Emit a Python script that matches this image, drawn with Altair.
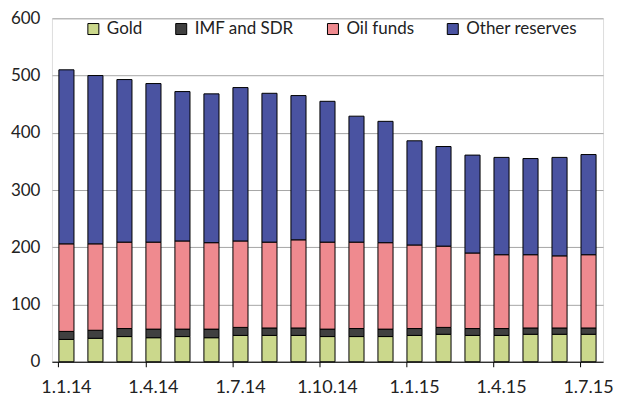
import altair as alt
import pandas as pd

months = ["1.1.14", "1.2.14", "1.3.14", "1.4.14", "1.5.14", "1.6.14", "1.7.14",
          "1.8.14", "1.9.14", "1.10.14", "1.11.14", "1.12.14", "1.1.15", "1.2.15",
          "1.3.15", "1.4.15", "1.5.15", "1.6.15", "1.7.15"]
series = ["Gold", "IMF and SDR", "Oil funds", "Other reserves"]
gold = [39, 41, 44, 42, 44, 42, 46, 46, 46, 44, 44, 44, 46, 48, 46, 46, 48, 48, 48]
imf = [14, 14, 14, 15, 13, 15, 14, 13, 13, 13, 14, 13, 12, 12, 12, 12, 11, 11, 11]
oil = [153, 151, 151, 152, 154, 151, 151, 150, 154, 152, 151, 151, 146, 142, 132, 129, 128, 126, 128]
other = [304, 294, 284, 277, 261, 260, 268, 260, 252, 246, 220, 212, 182, 174, 171, 170, 168, 172, 175]
tick_months = ["1.1.14", "1.4.14", "1.7.14", "1.10.14", "1.1.15", "1.4.15", "1.7.15"]
colors = ["#CBD88C", "#404040", "#EF8A8F", "#4A53A1"]

rows = []
for si, (name, vals) in enumerate(zip(series, [gold, imf, oil, other])):
    for m, v in zip(months, vals):
        rows.append({"month": m, "series": name, "value": v, "order": si})
df = pd.DataFrame(rows)

FONT = "Lato"

chart = alt.Chart(df).mark_bar(stroke="black", strokeWidth=1).encode(
    x=alt.X("month:N", sort=months, title=None,
            scale=alt.Scale(paddingInner=0.48, paddingOuter=0.24),
            axis=alt.Axis(values=tick_months, bandPosition=0,
                          labelAngle=0, labelAlign="center", labelPadding=12,
                          tickSize=5, tickColor="black", domainColor="black",
                          domainWidth=1, labelFontSize=18, labelFont=FONT,
                          labelColor="#222222", grid=False)),
    y=alt.Y("value:Q", stack="zero", title=None,
            scale=alt.Scale(domain=[0, 600], nice=False),
            axis=alt.Axis(values=[0, 100, 200, 300, 400, 500, 600], domain=False,
                          ticks=False, tickSize=0, labelPadding=12,
                          labelFontSize=17, labelFont=FONT, labelColor="#222222",
                          gridColor="#A6A6A6", gridWidth=1)),
    color=alt.Color("series:N", sort=series,
                    scale=alt.Scale(domain=series, range=colors),
                    legend=alt.Legend(title=None, orient="none", legendX=33, legendY=2,
                                      direction="horizontal", symbolType="square",
                                      symbolSize=121, symbolStrokeColor="black",
                                      symbolStrokeWidth=1, labelFontSize=17,
                                      labelFont=FONT, labelColor="#222222",
                                      labelOffset=5, columnPadding=30, padding=0)),
    order=alt.Order("order:Q", sort="ascending"),
).properties(
    width=552, height=344,
    autosize=alt.AutoSizeParams(type="none"),
    padding={"left": 44, "top": 10, "right": 20, "bottom": 40},
).configure_view(
    fill="#FAF6F0", stroke=None
).configure(background="white")

chart.save("out.html", embed_options={"renderer": "svg", "actions": False})
